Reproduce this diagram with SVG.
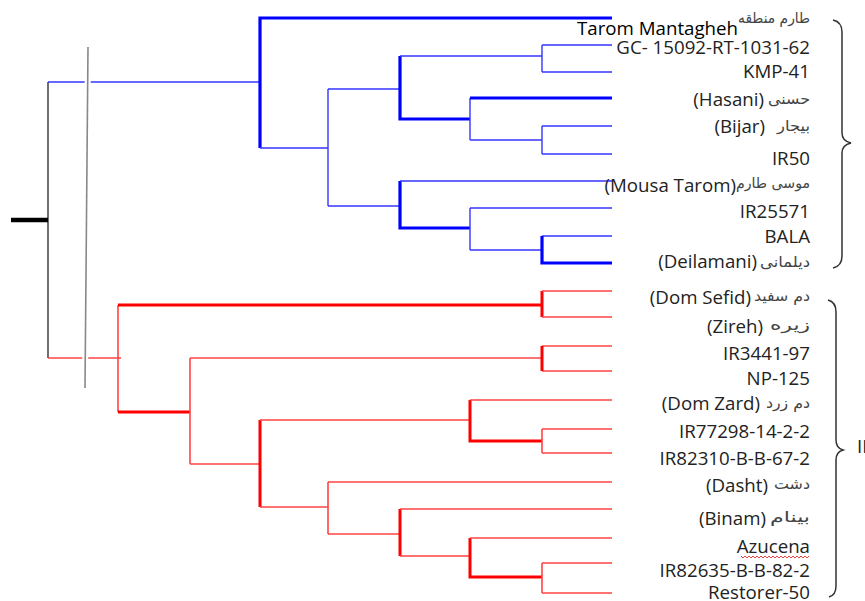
<svg xmlns="http://www.w3.org/2000/svg" width="865" height="601" viewBox="0 0 865 601">
<style>
.bt{stroke:#3636ff;stroke-width:1.4;fill:none}
.bT{stroke:#0000ff;stroke-width:3.2;fill:none}
.rt{stroke:#ff4444;stroke-width:1.6;fill:none}
.rT{stroke:#ff0000;stroke-width:3;fill:none}
.k{stroke:#333;stroke-width:1.4;fill:none}
.lab{font-family:"Open Sans","Liberation Sans",sans-serif;font-size:18.7px;fill:#222;text-anchor:end}
.fa{font-family:"DejaVu Sans",sans-serif;font-size:15px;fill:#444;text-anchor:end}
.br{stroke:#333;stroke-width:1.5;fill:none}
</style>
<rect width="865" height="601" fill="#fff"/>
<g id="connectors">
<path class="k" d="M48,82V358"/>
<path d="M11,220H48" stroke="#000" stroke-width="4.5"/>
<path class="bt" d="M48,82H260"/>
<path class="bT" d="M612,18H260V148"/>
<path class="bt" d="M260,148H328M328,89V206M328,89H400M328,206H400"/>
<path class="bT" d="M400,56V119H470"/>
<path class="bt" d="M400,56H542M542,45V72M542,45H612M542,72H612"/>
<path class="bt" d="M470,98V140M470,140H542M542,126V154M542,126H612M542,154H612"/>
<path class="bT" d="M470,98H612"/>
<path class="bT" d="M400,181V228H470"/>
<path class="bt" d="M400,181H612M470,208V250M470,208H612M470,250H542M542,236H612"/>
<path class="bT" d="M542,236V263H612"/>
<path class="rt" d="M48,358H121M118,305V412"/>
<path class="rT" d="M118,305H542M118,412H190M542,291V317"/>
<path class="rt" d="M542,291H612M542,317H612"/>
<path class="rt" d="M190,358V464M190,358H542M542,346H612M542,371H612M190,464H260"/>
<path class="rT" d="M542,346V371M260,420V507"/>
<path class="rt" d="M260,420H470M260,507H328"/>
<path class="rT" d="M470,400V441H542"/>
<path class="rt" d="M470,400H612M542,429V453M542,429H612M542,453H612"/>
<path class="rt" d="M328,482V534M328,482H612M328,534H400"/>
<path class="rT" d="M400,509V556"/>
<path class="rt" d="M400,509H612M400,556H470"/>
<path class="rT" d="M470,538V577H542"/>
<path class="rt" d="M470,538H612M542,563V593M542,563H612M542,593H612"/>
<path d="M88,47L85,388" stroke="#fff" stroke-width="6"/>
<path d="M88,47L85,388" stroke="#888" stroke-width="1.6"/>
</g>
<g id="leaf-tarom-mantagheh"><text class="fa" x="810" y="23" textLength="72" lengthAdjust="spacingAndGlyphs">طارم منطقه</text><text class="lab" x="738" y="35" style="fill:#000">Tarom Mantagheh</text></g>
<g id="leaf-gc"><text class="lab" x="810" y="54">GC- 15092-RT-1031-62</text></g>
<g id="leaf-kmp"><text class="lab" x="810" y="78">KMP-41</text></g>
<g id="leaf-hasani"><text class="lab" x="764" y="106">(Hasani)</text><text class="fa" x="810" y="104" textLength="42" lengthAdjust="spacingAndGlyphs">حسنی</text></g>
<g id="leaf-bijar"><text class="lab" x="765" y="133">(Bijar)</text><text class="fa" x="810" y="131" textLength="33" lengthAdjust="spacingAndGlyphs">بیجار</text></g>
<g id="leaf-ir50"><text class="lab" x="810" y="165">IR50</text></g>
<g id="leaf-mousa"><text class="lab" x="736" y="192">(Mousa Tarom)</text><text class="fa" x="810" y="188" textLength="74" lengthAdjust="spacingAndGlyphs">موسی طارم</text></g>
<g id="leaf-ir25571"><text class="lab" x="810" y="218">IR25571</text></g>
<g id="leaf-bala"><text class="lab" x="810" y="243">BALA</text></g>
<g id="leaf-deilamani"><text class="lab" x="757" y="268">(Deilamani)</text><text class="fa" x="810" y="267" textLength="50" lengthAdjust="spacingAndGlyphs">دیلمانی</text></g>
<g id="leaf-domsefid"><text class="lab" x="751" y="304">(Dom Sefid)</text><text class="fa" x="810" y="301" textLength="56" lengthAdjust="spacingAndGlyphs">دم سفید</text></g>
<g id="leaf-zireh"><text class="lab" x="763" y="333">(Zireh)</text><text class="fa" x="810" y="330" textLength="40" lengthAdjust="spacingAndGlyphs">زیره</text></g>
<g id="leaf-ir3441"><text class="lab" x="810" y="360">IR3441-97</text></g>
<g id="leaf-np125"><text class="lab" x="810" y="385">NP-125</text></g>
<g id="leaf-domzard"><text class="lab" x="760" y="410">(Dom Zard)</text><text class="fa" x="810" y="408" textLength="44" lengthAdjust="spacingAndGlyphs">دم زرد</text></g>
<g id="leaf-ir77298"><text class="lab" x="810" y="438">IR77298-14-2-2</text></g>
<g id="leaf-ir82310"><text class="lab" x="810" y="465">IR82310-B-B-67-2</text></g>
<g id="leaf-dasht"><text class="lab" x="768" y="492">(Dasht)</text><text class="fa" x="810" y="489" textLength="36" lengthAdjust="spacingAndGlyphs">دشت</text></g>
<g id="leaf-binam"><text class="lab" x="766" y="525">(Binam)</text><text class="fa" x="810" y="522" textLength="40" lengthAdjust="spacingAndGlyphs">بینام</text></g>
<g id="leaf-azucena"><text class="lab" x="810" y="553">Azucena</text><path d="M741,556l2,2l2,-2l2,2l2,-2l2,2l2,-2l2,2l2,-2l2,2l2,-2l2,2l2,-2l2,2l2,-2l2,2l2,-2l2,2l2,-2l2,2l2,-2l2,2l2,-2l2,2l2,-2l2,2l2,-2l2,2l2,-2l2,2l2,-2l2,2l2,-2l2,2l2,-2" stroke="#e03030" stroke-width="0.9" fill="none"/></g>
<g id="leaf-ir82635"><text class="lab" x="810" y="577">IR82635-B-B-82-2</text></g>
<g id="leaf-restorer"><text class="lab" x="810" y="599">Restorer-50</text></g>
<g id="group-I"><path class="br" d="M833,20Q842,22 842,32V133Q842,141 851,143Q842,145 842,153V256Q842,266 833,268"/></g>
<g id="group-II"><path class="br" d="M828,300Q836,302 836,312V440Q836,448 843,450Q836,452 836,460V586Q836,595 829,597"/><text class="lab" x="857" y="453" style="text-anchor:start">II</text></g>
</svg>
